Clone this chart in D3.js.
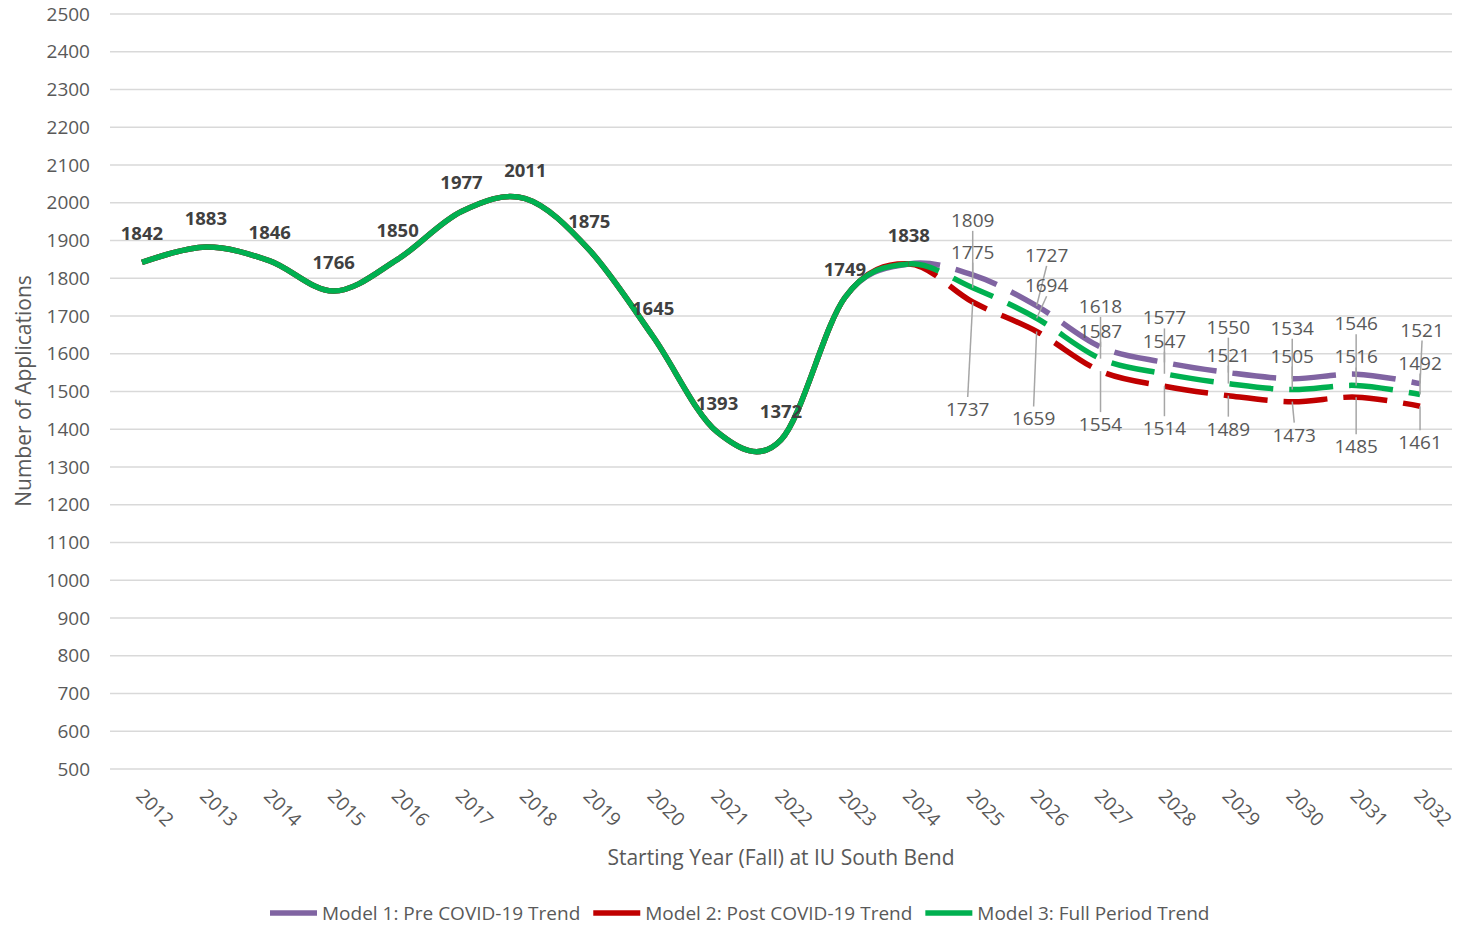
<!DOCTYPE html>
<html>
<head>
<meta charset="utf-8">
<script src="https://cdn.jsdelivr.net/npm/d3@7"></script>
<style>
  body { margin: 0; background: #fff; }
  svg { display: block; font-family: "Open Sans", sans-serif; }
</style>
</head>
<body>
<script>
var years = ['2012', '2013', '2014', '2015', '2016', '2017', '2018', '2019', '2020', '2021', '2022',
             '2023', '2024', '2025', '2026', '2027', '2028', '2029', '2030', '2031', '2032'];
var actual = [1842, 1883, 1846, 1766, 1850, 1977, 2011, 1875, 1645, 1393, 1372, 1749, 1838];
var model1 = [1809, 1727, 1618, 1577, 1550, 1534, 1546, 1521]; // pre covid trend
var model2 = [1737, 1659, 1554, 1514, 1489, 1473, 1485, 1461]; // post covid trend
var model3 = [1775, 1694, 1587, 1547, 1521, 1505, 1516, 1492]; // full period trend
var yTicks = d3.range(500, 2501, 100);
var seriesNames = ['Model 1: Pre COVID-19 Trend', 'Model 2: Post COVID-19 Trend', 'Model 3: Full Period Trend'];

// label placement for the forecast labels (pixels from the point)
var labelDy = [
    [-55, -51, -41, -45, -46, -51, -51, -54],
    [107, 87, 53, 42, 33, 33, 49, 36],
    [-36, -33, -28, -33, -29, -34, -29, -32]
];
var labelDx = [
    [0, 10, 0, 0, 0, 0, 0, 2],
    [-5, -3, 0, 0, 0, 2, 0, 0],
    [0, 10, 0, 0, 0, 0, 0, 0]
];

var width = 1457, height = 925;
var colors = ['#8064A2', '#C00000', '#00B050'];

var svg = d3.select('body').append('svg').attr('width', width).attr('height', height);

var x = d3.scaleBand().domain(years).range([110, 1452]);
var y = d3.scaleLinear().domain([500, 2500]).range([769, 14]);
var cx = function(d) { return x(d) + x.bandwidth() / 2; };

// gridlines
svg.append('g').selectAll('line').data(yTicks).join('line')
    .attr('x1', 110).attr('x2', 1452)
    .attr('y1', function(d) { return y(d); }).attr('y2', function(d) { return y(d); })
    .attr('stroke', '#d9d9d9').attr('stroke-width', 1.5);

var yAxis = d3.axisLeft(y).tickValues(yTicks).tickFormat(d3.format('d')).tickSize(0).tickPadding(20);
var yg = svg.append('g').attr('transform', 'translate(110,0)').call(yAxis);
yg.select('.domain').remove();
yg.selectAll('text').attr('fill', '#595959').style('font-size', '19px').style('font-family', '"Open Sans", sans-serif');

// rotated year labels
svg.append('g').selectAll('text').data(years).join('text')
    .attr('transform', function(d) { return 'translate(' + (cx(d) - 7) + ',797) rotate(45)'; })
    .attr('fill', '#595959').style('font-size', '19px')
    .text(function(d) { return d; });

svg.append('text').attr('x', 781).attr('y', 865).attr('text-anchor', 'middle')
    .attr('fill', '#595959').style('font-size', '21px')
    .text('Starting Year (Fall) at IU South Bend');
svg.append('text').attr('transform', 'translate(31,391) rotate(-90)').attr('text-anchor', 'middle')
    .attr('fill', '#595959').style('font-size', '21px')
    .text('Number of Applications');

// full series = actual + forecast
var models = [model1, model2, model3];
var series = models.map(function(m) {
    return actual.concat(m).map(function(v, i) { return { year: years[i], value: v }; });
});

var line = d3.line()
    .x(function(d) { return cx(d.year); })
    .y(function(d) { return y(d.value); })
    .curve(d3.curveCardinal.tension(0));

var splitX = cx('2024');
var defs = svg.append('defs');
defs.append('clipPath').attr('id', 'clip-hist').append('rect')
    .attr('x', 0).attr('y', 0).attr('width', splitX).attr('height', height);
defs.append('clipPath').attr('id', 'clip-fc').append('rect')
    .attr('x', splitX).attr('y', 0).attr('width', width - splitX).attr('height', height);

var lines = svg.append('g');
series.forEach(function(s, i) {
    lines.append('path').attr('d', line(s)).attr('fill', 'none')
        .attr('stroke', colors[i]).attr('stroke-width', 5.5)
        .attr('clip-path', 'url(#clip-hist)');
});
series.forEach(function(s, i) {
    lines.append('path').attr('d', line(s.slice(11))).attr('fill', 'none')
        .attr('stroke', colors[i]).attr('stroke-width', 5.5)
        .attr('stroke-dasharray', '44 16')
        .attr('clip-path', 'url(#clip-fc)');
});

// actual labels
svg.append('g').selectAll('text').data(actual).join('text')
    .attr('x', function(d, i) { return cx(years[i]); })
    .attr('y', function(d) { return y(d) - 22; })
    .attr('text-anchor', 'middle').attr('fill', '#404040')
    .style('font-size', '18.5px').style('font-weight', 'bold')
    .text(function(d) { return d; });

// forecast labels with leader lines
var fcYears = years.slice(13);
var leaders = svg.append('g');
var fcLabels = svg.append('g');
models.forEach(function(m, k) {
    m.forEach(function(v, i) {
        var px = cx(fcYears[i]), py = y(v);
        var lx = px + labelDx[k][i], ly = py + labelDy[k][i];
        var edge = labelDy[k][i] < 0 ? ly + 11 : ly - 12;
        if (Math.abs(edge - py) > 6) {
            leaders.append('line').attr('x1', lx).attr('y1', edge).attr('x2', px).attr('y2', py)
                .attr('stroke', '#a6a6a6').attr('stroke-width', 1.5);
        }
        fcLabels.append('text').attr('x', lx).attr('y', ly + 7)
            .attr('text-anchor', 'middle').attr('fill', '#595959')
            .style('font-size', '19px')
            .text(v);
    });
});

// legend
var legend = svg.append('g').attr('transform', 'translate(0,913)');
var lx0 = 270;
seriesNames.forEach(function(n, i) {
    legend.append('line').attr('x1', lx0).attr('x2', lx0 + 47)
        .attr('stroke', colors[i]).attr('stroke-width', 5.5);
    var t = legend.append('text').attr('x', lx0 + 52).attr('y', 7)
        .attr('fill', '#595959').style('font-size', '19px').text(n);
    lx0 += 52 + t.node().getComputedTextLength() + 13;
});
</script>
</body>
</html>
